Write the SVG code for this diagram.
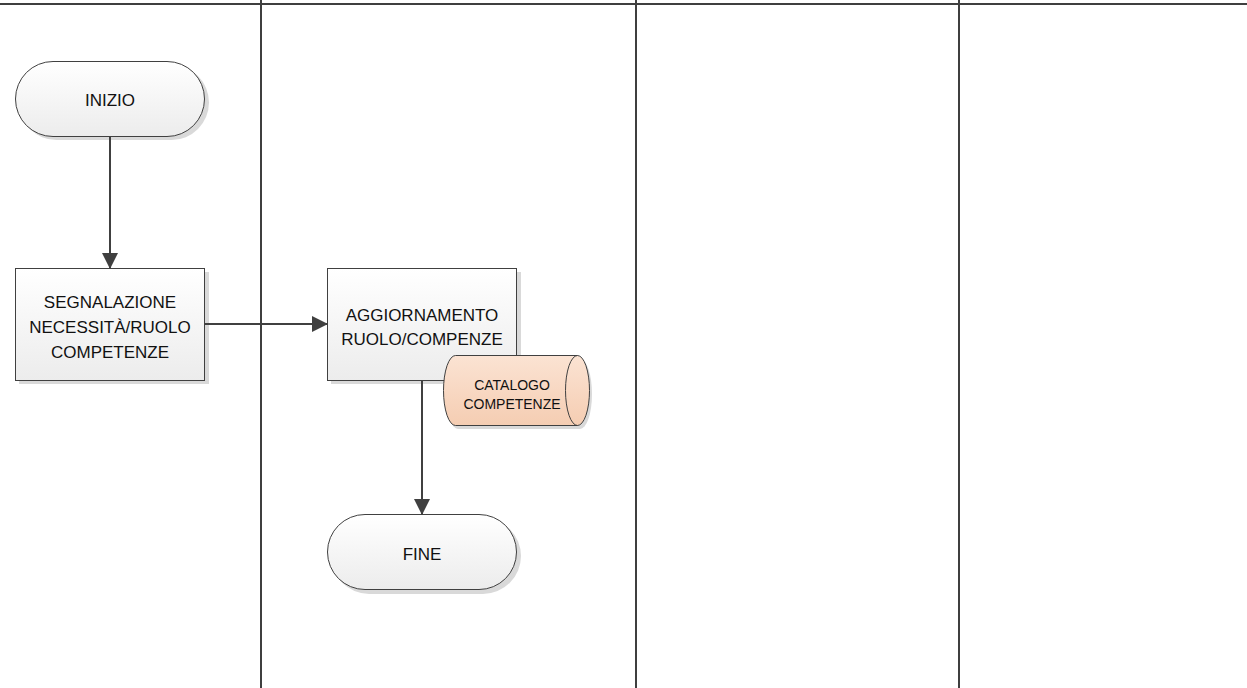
<svg xmlns="http://www.w3.org/2000/svg" width="1247" height="688" viewBox="0 0 1247 688">
<style>
.lane{stroke:#3f3f3f;stroke-width:2;fill:none}
.shape{stroke:#404040;stroke-width:1;fill:url(#g)}
.shadow{fill:#d9d9d9;stroke:none}
.t{font-family:"Liberation Sans",Arial,sans-serif;font-size:17px;fill:#111;text-anchor:middle}
.ts{font-family:"Liberation Sans",Arial,sans-serif;font-size:14px;fill:#111;text-anchor:middle}
.conn{stroke:#404040;stroke-width:2;fill:none}
</style>
<defs>
<linearGradient id="g" x1="0" y1="0" x2="0" y2="1"><stop offset="0" stop-color="#ffffff"/><stop offset="1" stop-color="#ececec"/></linearGradient>
<linearGradient id="p" x1="0" y1="0" x2="0" y2="1"><stop offset="0" stop-color="#fbe3d3"/><stop offset="1" stop-color="#f5cdb2"/></linearGradient>
<marker id="ab" markerWidth="16" markerHeight="16" refX="15" refY="8" orient="auto" markerUnits="userSpaceOnUse" viewBox="0 0 16 16"><path d="M0,0 L16,8 L0,16 z" fill="#404040"/></marker>
</defs>
<g id="lanes">
<line class="lane" x1="0" y1="4" x2="1247" y2="4" stroke="#5a5a5a"/>
<line class="lane" x1="261" y1="0" x2="261" y2="688"/>
<line class="lane" x1="636" y1="0" x2="636" y2="688"/>
<line class="lane" x1="959" y1="0" x2="959" y2="688"/>
</g>
<g id="inizio">
<rect class="shadow" x="19" y="65" width="190" height="75" rx="37.5"/>
<rect class="shape" x="15.5" y="61.5" width="189" height="75" rx="37.5"/>
<text class="t" x="110" y="106">INIZIO</text>
</g>
<g id="segnalazione">
<rect class="shadow" x="19" y="272" width="190" height="112"/>
<rect class="shape" x="15.5" y="268.5" width="189" height="112"/>
<text class="t" x="110" y="308">SEGNALAZIONE</text>
<text class="t" x="110" y="333">NECESSITÀ/RUOLO</text>
<text class="t" x="110" y="358">COMPETENZE</text>
</g>
<g id="aggiornamento">
<rect class="shadow" x="331" y="272" width="190" height="112"/>
<rect class="shape" x="327.5" y="268.5" width="189" height="112"/>
<text class="t" x="422" y="321">AGGIORNAMENTO</text>
<text class="t" x="422" y="345">RUOLO/COMPENZE</text>
</g>
<g id="catalogo">
<path d="M458,359 L580,359 A12,35 0 0 1 580,429 L458,429 A12,35 0 0 1 458,359 z" fill="#d9d9d9"/>
<path d="M455.5,355.5 L577.5,355.5 A12,35 0 0 1 577.5,425.5 L455.5,425.5 A12,35 0 0 1 455.5,355.5 z" fill="url(#p)" stroke="#404040" stroke-width="1"/>
<path d="M577.5,355.5 A12,35 0 0 0 577.5,425.5" fill="none" stroke="#404040" stroke-width="1"/>
<text class="ts" x="512" y="390">CATALOGO</text>
<text class="ts" x="512" y="409">COMPETENZE</text>
</g>
<g id="fine">
<rect class="shadow" x="331" y="518" width="190" height="76" rx="38"/>
<rect class="shape" x="327.5" y="514.5" width="189" height="75" rx="37.5"/>
<text class="t" x="422" y="560">FINE</text>
</g>
<g id="connectors">
<line class="conn" x1="110" y1="137" x2="110" y2="268" marker-end="url(#ab)"/>
<line class="conn" x1="205" y1="324" x2="327" y2="324" marker-end="url(#ab)"/>
<line class="conn" x1="422" y1="381" x2="422" y2="514" marker-end="url(#ab)"/>
</g>
</svg>
